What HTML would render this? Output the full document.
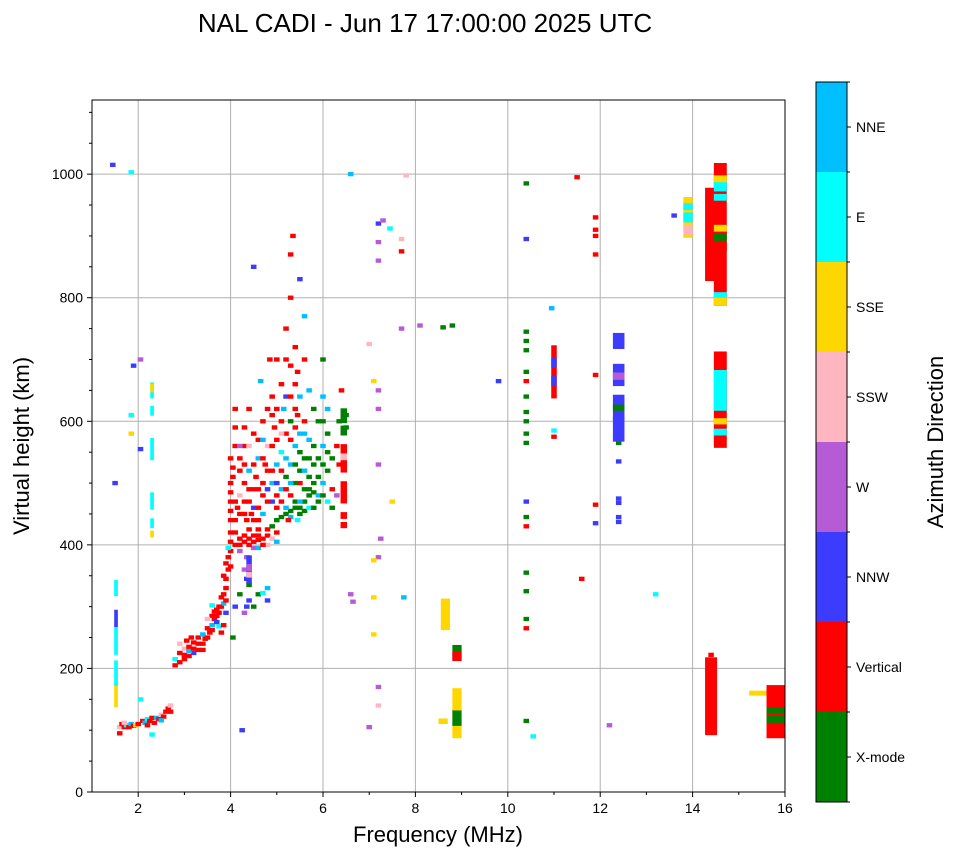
<!DOCTYPE html>
<html><head><meta charset="utf-8"><style>
html,body{margin:0;padding:0;background:#fff;}
svg{display:block;font-family:"Liberation Sans",sans-serif;}
</style></head><body>
<svg id="chart" width="958" height="857" viewBox="0 0 958 857" xmlns="http://www.w3.org/2000/svg">
<text x="425" y="32" font-size="26" text-anchor="middle">NAL CADI - Jun 17 17:00:00 2025 UTC</text>
<g id="grid"></g>
<g id="marks"></g>
<rect x="92" y="100" width="693" height="692" fill="none" stroke="#000" stroke-width="1"/>
<g id="axes"></g>
<text x="438" y="842" font-size="22" text-anchor="middle">Frequency (MHz)</text>
<text transform="translate(29,446) rotate(-90)" font-size="22" text-anchor="middle">Virtual height (km)</text>
<g id="cbar"></g>
<text transform="translate(943,442) rotate(-90)" font-size="22" text-anchor="middle">Azimuth Direction</text>
</svg>
<script>
const dirLabels = ["X-mode","Vertical","NNW","W","SSW","SSE","E","NNE"];
const dirColors = ["#008000","#ff0000","#3c3cff","#b65ad6","#ffb6c1","#ffd700","#00ffff","#00bfff"];
const xTicks = [2,4,6,8,10,12,14,16];
const yTicks = [0,200,400,600,800,1000];
// [freq MHz, height km, direction index]
const pointData = [
[1.45,1015,2],[1.85,1003,6],[1.5,500,2],[1.9,690,2],[1.85,610,6],[2.05,700,3],[2.05,555,2],[1.85,580,5],
[1.6,95,1],[1.6,105,4],[1.65,110,1],[1.7,105,1],[1.75,108,6],[1.8,105,1],[1.85,110,7],[1.9,107,1],[1.95,108,5],[2.0,110,1],[2.1,115,1],[2.15,112,7],[2.2,118,6],[2.25,115,1],[2.3,120,1],[2.4,120,7],[2.45,118,1],[2.5,125,4],[2.55,122,1],[2.6,130,1],[2.65,135,1],[2.7,140,4],[2.3,93,6],[2.05,150,6],[2.7,130,1],[2.2,108,1],[1.7,112,4],[2.35,112,1],[2.5,116,7],
[2.8,205,1],[2.8,215,6],[2.9,210,1],[2.9,225,1],[3.0,215,1],[3.0,232,4],[3.1,220,1],[3.1,235,1],[3.2,225,2],[3.2,242,1],[3.3,230,1],[3.3,250,1],[3.4,240,1],[3.4,255,7],[3.5,250,1],[3.5,265,1],[3.55,258,1],[3.6,270,7],[3.6,285,1],[3.65,280,1],[3.7,275,2],[3.7,295,1],[3.75,290,1],[3.8,300,1],[3.8,315,1],[3.85,305,7],[3.9,330,1],[3.9,345,1],[3.95,360,1],[3.95,380,1],[4.0,390,1],[4.0,405,1],[3.75,268,6],[3.8,258,1],[3.9,290,2],[4.1,300,2],[4.2,320,0],[4.4,310,2],[4.4,335,0],[4.5,300,0],[4.6,320,0],[4.7,322,6],[4.8,310,2],[3.6,302,6],[3.5,280,4],[3.4,230,1],[3.05,245,1],[2.9,240,4],[3.15,250,1],[3.85,270,1],[4.05,250,0],[4.25,100,2],
[3.0,222,1],[3.1,228,7],[3.2,232,1],[3.3,240,1],[3.45,248,1],[3.6,262,1],[3.65,292,1],[3.7,285,1],[3.75,300,1],[3.85,320,1],[3.9,310,1],[3.9,370,1],[3.85,350,1],[4.0,365,1],[4.0,420,1],[3.95,395,6],[4.3,360,3],[4.35,345,2],[4.35,300,2],[4.3,290,3],[4.8,330,7],
[4.1,400,1],[4.2,410,1],[4.3,405,1],[4.3,415,1],[4.4,410,1],[4.5,405,1],[4.6,408,1],[4.7,410,1],[4.8,415,1],[4.9,410,4],[5.0,420,1],[5.0,405,7],[4.2,390,3],[4.35,380,3],[4.5,395,3],[4.6,395,7],[4.8,400,4],[4.4,425,1],[4.6,425,1],[4.1,420,1],[4.2,400,1],[4.4,400,1],[4.5,415,1],[4.7,400,1],[4.6,415,1],[4.8,425,1],
[4.9,430,0],[5.0,440,0],[5.1,445,0],[5.2,450,0],[5.3,455,0],[5.4,460,0],[5.5,450,0],[5.6,470,0],[5.7,480,0],[5.8,485,0],[5.9,470,0],[5.3,445,7],[5.45,440,6],[5.5,460,0],[5.6,455,0],[5.4,470,0],[5.7,490,0],
[4.0,440,1],[4.0,470,1],[4.0,500,1],[4.05,525,1],[4.1,560,1],[4.1,590,1],[4.1,620,1],[4.2,450,1],[4.2,480,4],[4.3,500,1],[4.3,530,1],[4.3,560,1],[4.4,470,1],[4.4,520,7],[4.5,440,1],[4.5,460,2],[4.6,490,1],[4.6,540,7],[4.6,570,1],[4.7,450,7],[4.7,480,1],[4.7,600,1],[4.8,520,1],[4.8,560,4],[4.8,620,1],[4.9,500,7],[4.9,470,2],[4.9,640,1],[5.0,480,1],[5.0,530,7],[5.0,570,1],[5.0,700,1],[5.1,490,7],[5.1,550,6],[5.1,600,1],[5.1,660,1],[5.2,460,7],[5.2,510,0],[5.2,580,1],[5.2,640,2],[5.2,750,1],[5.3,480,1],[5.3,530,7],[5.3,600,0],[5.3,690,1],[5.3,800,1],[5.3,870,1],[5.35,900,1],[5.4,500,0],[5.4,560,7],[5.4,620,1],[5.4,720,1],[5.5,470,7],[5.5,520,0],[5.5,580,7],[5.5,640,7],[5.6,490,0],[5.6,540,0],[5.6,600,1],[5.7,460,6],[5.7,510,0],[5.7,570,7],[5.7,650,7],[5.8,500,0],[5.8,560,0],[5.8,620,0],[5.9,480,7],[5.9,540,0],[5.9,600,0],[6.0,500,7],[6.0,560,7],[6.0,600,0],[6.0,640,7],[6.0,700,0],[6.1,470,6],[6.1,520,0],[6.1,580,0],[6.2,490,1],[6.2,540,0],[6.3,480,3],[6.3,560,1],[6.35,600,0],[6.35,530,1],[6.5,610,0],[6.5,590,0],[6.4,650,1],[6.6,1000,7],[5.5,830,2],[4.5,850,2],[4.4,620,1],[4.2,560,3],[4.55,510,1],[4.75,530,1],[4.95,590,1],[5.15,620,7],[5.45,680,1],[5.6,770,7],[4.65,665,7],[4.85,700,1],[5.25,440,1],[4.45,450,1],[4.35,440,1],[4.15,460,1],
[4.0,455,1],[4.0,485,1],[4.05,510,1],[4.0,540,1],[4.1,440,1],[4.1,470,1],[4.2,520,1],[4.2,540,1],[4.3,470,1],[4.3,450,1],[4.4,490,1],[4.5,490,1],[4.5,530,1],[4.6,460,1],[4.6,440,1],[4.7,500,1],[4.7,540,1],[4.8,470,1],[4.8,490,2],[4.9,520,1],[4.9,560,1],[5.0,460,1],[5.0,500,2],[5.1,470,1],[5.1,520,1],[5.2,490,1],[5.2,540,7],[5.3,500,7],[5.3,570,1],[5.4,530,0],[5.4,590,1],[5.5,500,1],[5.5,550,0],[5.6,520,7],[5.6,580,7],[5.7,540,0],[5.8,530,0],[5.8,460,0],[5.9,510,0],[6.0,480,0],[6.0,530,0],[6.1,550,0],[6.1,620,7],[6.2,460,0],[5.1,580,4],[5.3,640,1],[5.4,660,1],[5.0,620,1],[4.9,610,1],[5.2,700,1],[5.6,700,1],[5.45,610,1],[4.3,590,1],[4.4,560,4],[4.5,580,1],[4.7,570,7],
[7.2,920,2],[7.3,925,3],[7.2,890,3],[7.45,912,6],[7.7,875,1],[7.7,895,4],[7.8,998,4],[7.2,860,3],[7.1,665,5],[7.2,650,3],[7.2,620,3],[7.2,530,3],[7.25,410,3],[7.2,380,3],[7.1,375,5],[7.75,315,7],[7.1,315,5],[7.1,255,5],[7.2,170,3],[7.2,140,4],[7.0,105,3],[7.7,750,3],[8.1,755,3],[7.5,470,5],[7.0,725,4],[6.6,320,3],[6.65,308,3],
[8.6,752,0],[8.8,755,0],[9.8,665,2],
[10.4,985,0],[10.4,895,2],[10.4,745,0],[10.4,730,0],[10.4,715,0],[10.4,680,0],[10.4,665,1],[10.4,640,0],[10.4,615,0],[10.4,600,0],[10.4,580,0],[10.4,565,0],[10.4,470,2],[10.4,445,0],[10.4,430,1],[10.4,355,0],[10.4,325,0],[10.4,280,0],[10.4,265,1],[10.4,115,0],[10.55,90,6],[10.95,783,7],
[11.0,575,1],[11.0,585,6],[11.5,995,1],[11.6,345,1],[11.9,930,1],[11.9,910,1],[11.9,900,1],[11.9,870,1],[11.9,675,1],[11.9,465,1],[11.9,435,2],[12.2,108,3],
[12.4,565,0],[12.4,535,2],[12.4,475,2],[12.4,468,2],[12.4,445,2],[12.4,437,2],[13.2,320,6],[13.6,933,2],[14.4,222,1]
];
// [freq MHz, bottom km, top km, direction index, width MHz]
const columnData = [
[1.52,140,175,5,0.08],[1.52,175,210,6,0.08],[1.52,225,265,6,0.08],[1.52,270,292,2,0.08],[1.52,320,340,6,0.08],
[2.3,415,420,5,0.08],[2.3,430,440,6,0.08],[2.3,460,482,6,0.08],[2.3,540,570,6,0.08],[2.3,612,622,6,0.08],[2.3,640,660,6,0.08],[2.3,650,658,5,0.08],
[6.45,470,500,1,0.14],[6.45,520,560,1,0.14],[6.45,540,545,4,0.14],[6.45,580,590,0,0.14],[6.45,600,618,0,0.14],[6.45,445,450,1,0.14],[6.45,430,434,1,0.14],
[4.4,340,380,2,0.12],[4.4,360,366,3,0.12],[4.4,350,353,4,0.12],
[8.65,265,310,5,0.2],[8.6,113,116,5,0.2],[8.9,90,110,5,0.2],[8.9,110,130,0,0.2],[8.9,135,165,5,0.2],[8.9,215,235,0,0.2],[8.9,215,225,1,0.2],
[11.0,640,720,1,0.12],[11.0,660,670,2,0.12],[11.0,690,700,2,0.12],
[12.4,720,740,2,0.25],[12.4,660,690,2,0.25],[12.4,670,676,3,0.25],[12.4,605,640,2,0.25],[12.4,620,624,0,0.25],[12.4,570,605,2,0.25],
[13.9,900,960,5,0.2],[13.9,905,915,4,0.2],[13.9,925,935,6,0.2],[13.9,945,950,6,0.2],
[14.4,830,975,1,0.26],[14.4,95,215,1,0.26],
[14.6,790,1015,1,0.28],[14.6,790,800,5,0.28],[14.6,803,806,6,0.28],[14.6,880,905,1,0.28],[14.6,895,900,0,0.28],[14.6,910,915,5,0.28],[14.6,960,965,6,0.28],[14.6,975,985,6,0.28],[14.6,990,995,5,0.28],
[14.6,560,710,1,0.28],[14.6,620,680,6,0.28],[14.6,598,602,5,0.28],[14.6,580,585,6,0.28],
[15.5,159,161,5,0.55],[15.8,90,170,1,0.4],[15.8,115,120,0,0.4],[15.8,130,133,0,0.4]
];
const NS="http://www.w3.org/2000/svg";
const X0=92,X1=785,Y0=792,Y1=100,FMIN=1,FMAX=16,HMIN=0,HMAX=1120;
function xs(f){return X0+(f-FMIN)/(FMAX-FMIN)*(X1-X0);}
function ys(h){return Y0-(h-HMIN)/(HMAX-HMIN)*(Y0-Y1);}
function mk(tag,attrs,parent){const e=document.createElementNS(NS,tag);for(const k in attrs)e.setAttribute(k,attrs[k]);parent.appendChild(e);return e;}
const grid=document.getElementById('grid'),marks=document.getElementById('marks'),axes=document.getElementById('axes'),cbar=document.getElementById('cbar');
xTicks.forEach(t=>{const l=mk('line',{x1:xs(t),x2:xs(t),y1:Y1,y2:Y0,stroke:'#b0b0b0','stroke-width':1},grid);

});
yTicks.forEach(t=>{const l=mk('line',{x1:X0,x2:X1,y1:ys(t),y2:ys(t),stroke:'#b0b0b0','stroke-width':1},grid);

});
pointData.forEach(p=>{const w=0.12,h=7;const r=mk('rect',{x:xs(p[0]-w/2),y:ys(p[1]+h/2),width:xs(p[0]+w/2)-xs(p[0]-w/2),height:ys(p[1]-h/2)-ys(p[1]+h/2),fill:dirColors[p[2]]},marks);

});
columnData.forEach(c=>{const r=mk('rect',{x:xs(c[0]-c[4]/2),y:ys(c[2]+3),width:xs(c[0]+c[4]/2)-xs(c[0]-c[4]/2),height:ys(c[1]-3)-ys(c[2]+3),fill:dirColors[c[3]]},marks);

});
for(let f=2;f<=16;f++){const major=f%2===0;mk('line',{x1:xs(f),x2:xs(f),y1:Y0,y2:Y0+(major?5:3),stroke:'#000'},axes);
if(major){const t=mk('text',{x:xs(f),y:Y0+21,'font-size':14,'text-anchor':'middle'},axes);t.textContent=f;

}}
for(let h=0;h<=1100;h+=50){const major=h%200===0;mk('line',{x1:X0,x2:X0-(major?5:3),y1:ys(h),y2:ys(h),stroke:'#000'},axes);
if(major){const t=mk('text',{x:X0-9,y:ys(h)+5,'font-size':14,'text-anchor':'end'},axes);t.textContent=h;

}}
const CB0=82,CB1=802,CX=816,CW=31,seg=(CB1-CB0)/dirLabels.length;
dirLabels.forEach((lab,i)=>{const top=CB1-(i+1)*seg;
const r=mk('rect',{x:CX,y:top,width:CW,height:seg,fill:dirColors[i]},cbar);


mk('line',{x1:CX+CW,x2:CX+CW+4,y1:top+seg/2,y2:top+seg/2,stroke:'#000'},cbar);
const t=mk('text',{x:CX+CW+9,y:top+seg/2+5,'font-size':14},cbar);t.textContent=lab;

});
for(let i=0;i<=dirLabels.length;i++){mk('line',{x1:CX+CW,x2:CX+CW+3,y1:CB0+i*seg,y2:CB0+i*seg,stroke:'#000'},cbar);}
mk('rect',{x:CX,y:CB0,width:CW,height:CB1-CB0,fill:'none',stroke:'#000'},cbar);
</script>
</body></html>
